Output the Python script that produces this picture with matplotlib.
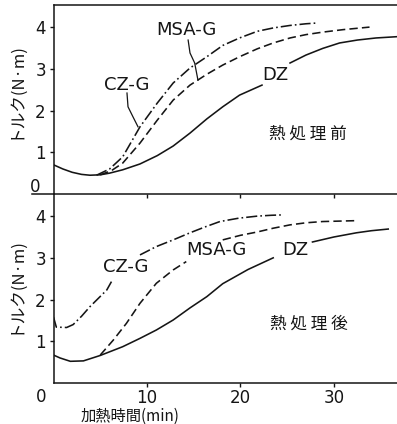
import numpy as np
import matplotlib
matplotlib.use("Agg")
import matplotlib.pyplot as plt
from matplotlib.lines import Line2D

plt.rcParams['font.family'] = ['DejaVu Sans']
plt.rcParams['lines.scale_dashes'] = False
nan = np.nan

# ---- data ----
top_dz_x = [0, 1, 2, 3, 3.9, 5, 6, 7.4, 9.25, 11.1, 12.8, 14.6, 16.4, 18.1, 19.9, 21.2, 22.3, nan,
            25.3, 27, 28.8, 30.6, 32.5, 34.5, 36.7]
top_dz_y = [0.70, 0.60, 0.52, 0.47, 0.45, 0.46, 0.50, 0.58, 0.72, 0.92, 1.15, 1.46, 1.80, 2.09, 2.37, 2.50, 2.61, nan,
            3.14, 3.33, 3.49, 3.62, 3.69, 3.74, 3.77]
top_cz_x = [4.6, 6, 7.4, 8.3, 9.25, 11.1, 12.8, 14.6, 16.4, 18.1, 19.9, 21.8, 23.5, 25.3, 27, 28.3]
top_cz_y = [0.45, 0.60, 0.89, 1.24, 1.61, 2.18, 2.66, 3.02, 3.29, 3.56, 3.74, 3.90, 3.98, 4.04, 4.08, 4.10]
top_msa_x = [5, 6.2, 7.4, 9.25, 11.1, 12.8, 14.6, 16.4, 18.1, 19.9, 21.8, 23.5, 25.3, 27, 28.8, 31, 33.8]
top_msa_y = [0.46, 0.56, 0.74, 1.22, 1.77, 2.25, 2.61, 2.87, 3.09, 3.29, 3.48, 3.62, 3.74, 3.82, 3.88, 3.94, 4.00]

bot_dz_x = [0, 0.7, 1.8, 3.2, 5, 7.4, 9.25, 11, 12.8, 14.6, 16.4, 18.1, 20.8, 23.5, nan,
            27.7, 30, 32.4, 34, 35.8]
bot_dz_y = [0.67, 0.60, 0.52, 0.53, 0.66, 0.87, 1.07, 1.27, 1.51, 1.80, 2.07, 2.38, 2.72, 3.00, nan,
            3.38, 3.50, 3.60, 3.65, 3.69]
bot_cz_x = [0, 0.3, 1.4, 2.1, 3.0, 3.9, 5.7, 6.2, nan, 9.25, 11, 12.8, 14.6, 16.2, 17.8, 19.8, 21.8, 23.3, 24.6]
bot_cz_y = [1.58, 1.34, 1.33, 1.40, 1.60, 1.83, 2.23, 2.43, nan, 3.07, 3.27, 3.43, 3.60, 3.74, 3.87, 3.95, 4.00, 4.02, 4.03]
bot_msa_x = [5, 6.4, 7.8, 9.25, 11, 12.8, 14.2, nan, 18.1, 20, 21.8, 23.5, 25.3, 27, 28.8, 30.5, 32.2]
bot_msa_y = [0.67, 1.03, 1.43, 1.91, 2.39, 2.71, 2.91, nan, 3.43, 3.54, 3.62, 3.71, 3.79, 3.84, 3.87, 3.88, 3.89]

# leader lines for labels (top panel)
lead_cz_x = [7.86, 7.97, 8.5, 9.04]
lead_cz_y = [2.42, 2.09, 1.85, 1.61]
lead_msa_x = [14.4, 14.6, 15.1, 15.45]
lead_msa_y = [3.69, 3.38, 3.14, 2.73]

yticks_top = [1, 2, 3, 4]
yticks_bot = [1, 2, 3, 4]
xticks = [10, 20, 30]

# ---- layout ----
W, H = 397, 424
fig = plt.figure(figsize=(W / 100, H / 100), dpi=100)
x0px = 53.5
ax2 = fig.add_axes([x0px / W, (H - 383) / H, 1 - x0px / W, (383 - 194) / H])
ax1 = fig.add_axes([x0px / W, (H - 194) / H, 1 - x0px / W, (194 - 5) / H])

ink = '#151515'
lw = 1.15
dash = (0, (6, 3))
dashdot = (0, (8, 2.2, 1.2, 2.2))
cjk = ['Noto Sans CJK JP', 'DejaVu Sans']

for ax in (ax1, ax2):
    ax.patch.set_visible(False)
    ax.set_xlim(0, 36.74)
    ax.set_ylim(0, 4.53)
    ax.spines['right'].set_visible(False)
    for s in ('left', 'bottom', 'top'):
        ax.spines[s].set_linewidth(1.1)
        ax.spines[s].set_color(ink)
    ax.tick_params(direction='out', length=3, width=1.0, color=ink, labelsize=12, pad=2.5,
                   labelcolor=ink)
    ax.set_xticks(xticks)

ax2.spines['top'].set_visible(False)
ax1.set_yticks(yticks_top)
ax2.set_yticks(yticks_bot)
ax1.tick_params(axis='x', labelbottom=False)
ax2.tick_params(axis='x', pad=1.5)

# top panel curves
ax1.plot(top_dz_x, top_dz_y, color=ink, lw=lw)
ax1.plot(top_cz_x, top_cz_y, color=ink, lw=lw, linestyle=dashdot)
ax1.plot(top_msa_x, top_msa_y, color=ink, lw=lw, linestyle=dash)
ax1.plot(lead_cz_x, lead_cz_y, color=ink, lw=0.9)
ax1.plot(lead_msa_x, lead_msa_y, color=ink, lw=0.9)
ax1.text(7.86, 2.61, 'CZ-G', fontsize=13, ha='center', va='center', color=ink)
ax1.text(14.2, 3.94, 'MSA-G', fontsize=13, ha='center', va='center', color=ink)
ax1.text(23.7, 2.85, 'DZ', fontsize=13, ha='center', va='center', color=ink)
ax1.text(27.2, 1.44, '熱 処 理 前', fontsize=12, ha='center', va='center', color=ink, family=cjk)

# bottom panel curves
ax2.plot(bot_dz_x, bot_dz_y, color=ink, lw=lw)
ax2.plot(bot_cz_x, bot_cz_y, color=ink, lw=lw, linestyle=dashdot)
ax2.plot(bot_msa_x, bot_msa_y, color=ink, lw=lw, linestyle=dash)
ax2.text(7.76, 2.77, 'CZ-G', fontsize=13, ha='center', va='center', color=ink)
ax2.text(17.4, 3.18, 'MSA-G', fontsize=13, ha='center', va='center', color=ink)
ax2.text(25.9, 3.18, 'DZ', fontsize=13, ha='center', va='center', color=ink)
ax2.text(27.3, 1.41, '熱 処 理 後', fontsize=12, ha='center', va='center', color=ink, family=cjk)

# extra zero labels and axis labels
fig.text(35 / W, 1 - 187 / H, '0', fontsize=12, ha='center', va='center', color=ink)
fig.text(41 / W, 1 - 397 / H, '0', fontsize=12, ha='center', va='center', color=ink)
fig.text(15 / W, 1 - 90 / H, 'トルク(N·m)', fontsize=12, rotation=90, ha='center', va='center',
         color=ink, family=cjk)
fig.text(15 / W, 1 - 285 / H, 'トルク(N·m)', fontsize=12, rotation=90, ha='center', va='center',
         color=ink, family=cjk)
fig.text(130 / W, 1 - 416 / H, '加熱時間(min)', fontsize=11, ha='center', va='center',
         color=ink, family=cjk)

# axis line overhang to the left (as in the scan)
fig.add_artist(Line2D([32 / W, x0px / W], [(H - 194) / H, (H - 194) / H], color=ink, lw=1.1))

fig.savefig('out.png', dpi=100)
